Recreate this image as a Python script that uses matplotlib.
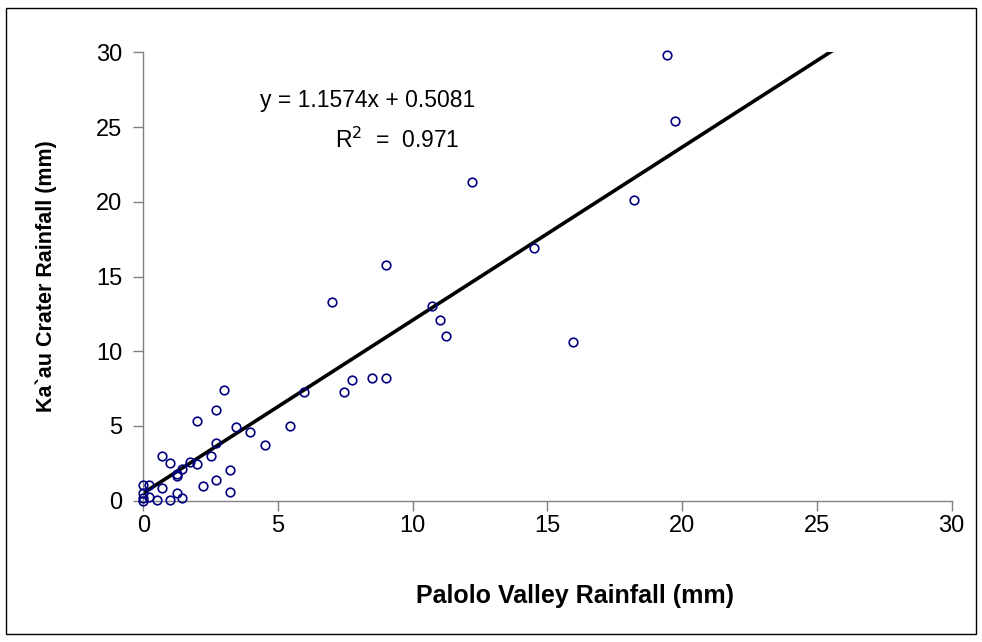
import matplotlib
matplotlib.use("Agg")
import matplotlib.pyplot as plt
from matplotlib.patches import Rectangle

plt.rcParams["font.family"] = ["Liberation Sans", "DejaVu Sans"]

# Palolo Valley (x) vs Ka`au Crater (y) rainfall, mm
palolo = [19.45, 19.75, 12.2, 18.2, 14.5, 9.0, 7.0, 10.7, 11.0, 11.25,
          15.95, 8.5, 9.0, 7.75, 7.45, 5.95, 5.45, 4.5, 3.0, 2.7,
          2.0, 3.45, 3.95, 2.7, 2.5, 0.7, 1.0, 1.75, 2.0, 1.45,
          1.25, 1.25, 3.2, 2.7, 2.2, 3.2, 0.7, 0.0, 0.2, 0.0,
          0.0, 0.2, 0.0, 0.5, 1.0, 1.45, 1.25]
kaau = [29.8, 25.4, 21.3, 20.1, 16.9, 15.8, 13.3, 13.0, 12.1, 11.0,
        10.65, 8.2, 8.2, 8.1, 7.3, 7.3, 5.0, 3.7, 7.4, 6.1,
        5.3, 4.9, 4.6, 3.85, 3.0, 3.0, 2.5, 2.6, 2.45, 2.1,
        1.65, 1.8, 2.05, 1.4, 1.0, 0.6, 0.85, 1.05, 1.05, 0.5,
        0.15, 0.25, 0.0, 0.05, 0.05, 0.2, 0.5]

# trendline as printed on the chart
slope = 1.1574
intercept = 0.5081
r2 = 0.971
fit_x = [0, 30]

ticks = [0, 5, 10, 15, 20, 25, 30]

W, H = 982, 642
fig = plt.figure(figsize=(W / 100, H / 100), dpi=100)
ax = fig.add_axes([0.1459, 0.2201, 0.8232, 0.6984])

ax.plot(fit_x, [slope * v + intercept for v in fit_x], color="black", lw=2.6,
        zorder=2, solid_capstyle="butt")
ax.plot(palolo, kaau, ls="none", marker="o", ms=6.2, mfc="none",
        mec="#000080", mew=1.2, zorder=3, clip_on=False)

ax.set_xlim(0, 30)
ax.set_ylim(0, 30)
ax.set_xticks(ticks)
ax.set_yticks(ticks)
for s in ("top", "right"):
    ax.spines[s].set_visible(False)
for s in ("left", "bottom"):
    ax.spines[s].set_color("#808080")
    ax.spines[s].set_linewidth(1.0)
ax.tick_params(axis="both", direction="out", length=7, width=1.0,
               color="#808080", labelsize=17)
ax.tick_params(axis="x", pad=3)
ax.tick_params(axis="y", pad=8)

ax.set_xlabel("Palolo Valley Rainfall (mm)", fontsize=18, fontweight="bold")
ax.xaxis.set_label_coords(0.534, -0.185)
ax.set_ylabel("Ka`au Crater Rainfall (mm)", fontsize=15.5, fontweight="bold",
              labelpad=28)

# equation text, positioned in pixels from the top-left corner
fig.text(368 / W, 1 - 101 / H, f"y = {slope}x + {intercept}",
         fontsize=16.5, ha="center", va="center")
fig.text(397 / W, 1 - 140 / H, f"R$^2$  =  {r2}", fontsize=16.5,
         ha="center", va="center")

# outer chart frame
fig.patches.append(Rectangle((6 / W, 8 / H), 970 / W, 626 / H,
                             transform=fig.transFigure, fill=False,
                             edgecolor="black", lw=1.0))

fig.savefig("out.png", dpi=100)
